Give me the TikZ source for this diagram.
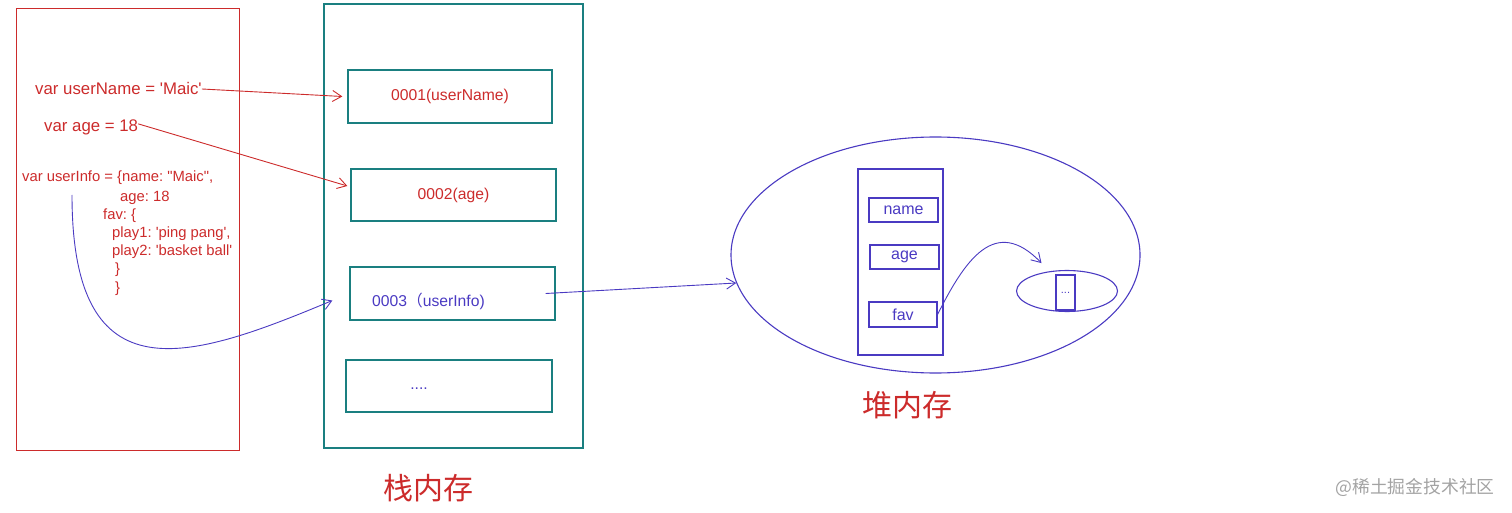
\documentclass[tikz,border=0pt]{standalone}
\usepackage{fontspec}
\setmainfont{Liberation Sans}[Ligatures=TeXOff]
\newfontfamily\cjk{Noto Sans CJK SC}
\usetikzlibrary{shapes.geometric,arrows.meta}
\definecolor{codered}{HTML}{CC2B2B}
\definecolor{stackteal}{HTML}{1A7F80}
\definecolor{heapviolet}{HTML}{4A3AC2}
\definecolor{markgray}{HTML}{A3A3A3}
\newcommand{\cn}[1]{{\cjk #1}}
\newcommand{\low}[1]{\raisebox{-2pt}{#1}}
\frenchspacing
\tikzset{
            codeline/.style={anchor=base west, inner sep=0pt, text=codered, font=\fontsize{14.8}{16}\selectfont},
            cell/.style={draw=stackteal, line width=1.3pt, inner sep=0pt, font=\fontsize{15.7}{18}\selectfont},
            heapbox/.style={draw=heapviolet, line width=1.1pt, inner sep=0pt, text=heapviolet, font=\fontsize{16}{18}\selectfont},
            title/.style={text=codered, font=\cjk\fontsize{30}{34}\selectfont}
        }

\begin{document}
\begin{tikzpicture}[
                    x=1pt, y=-1pt,
                    redarrow/.style={draw=codered, line width=0.9pt, -{Straight Barb[length=9pt,width=11pt]}},
                    violetarrow/.style={draw=heapviolet, line width=0.9pt, -{Straight Barb[length=9pt,width=11pt]}}
                    ]
                \useasboundingbox (0,0) rectangle (1512,513);
                % code side
                \node[draw=codered, line width=0.8pt, minimum width=223pt, minimum height=442pt] (code) at (127.5,229) {};
                \node[codeline, font=\fontsize{16.8}{18}\selectfont] (username) at (35,95) {var userName = 'Maic'};
                \node[codeline, font=\fontsize{16.8}{18}\selectfont] (age) at (44,132) {var age = 18};
                \node[codeline] (userinfo) at (22,182) {var userInfo = \{name: "Maic",};
                \node[codeline] (infoage) at (120,201) {age: 18};
                \node[codeline] (infofav) at (103,219) {fav: \{};
                \node[codeline] (playa) at (112,237) {play1: 'ping pang',};
                \node[codeline] (playb) at (112,255) {play2: 'basket ball'};
                \node[codeline] (closea) at (115,273) {\}};
                \node[codeline] (closeb) at (115,292) {\}};
                \coordinate (infostart) at (72,195);
                % stack
                \node[cell, minimum width=259pt, minimum height=444pt] (stack) at (453.5,226) {};
                \node[cell, minimum width=204pt, minimum height=53pt, text=codered] (stacka) at (450,96.5) {\low{0001(userName)}};
                \node[cell, minimum width=205pt, minimum height=52pt, text=codered] (stackb) at (453.5,195) {\low{0002(age)}};
                \node[cell, minimum width=205pt, minimum height=53pt] (stackc) at (452.5,293.5) {};
                \node[cell, minimum width=206pt, minimum height=52pt] (stackd) at (449,386) {};
                \node[anchor=west, inner sep=0pt, text=heapviolet, font=\fontsize{15.7}{18}\selectfont] (stackctext) at (372,301) {0003\cn{（}userInfo)};
                \node[inner sep=0pt, text=heapviolet, font=\fontsize{15.7}{18}\selectfont] (stackdtext) at (419,389) {....};
                \node[title] (stacktitle) at (428,488) {栈内存};
                % heap
                \node[heapbox, ellipse, minimum width=409pt, minimum height=236pt] (heap) at (935.5,255) {};
                \node[heapbox, minimum width=85pt, minimum height=186pt] (heapcol) at (900.5,262) {};
                \node[heapbox, minimum width=69pt, minimum height=24pt] (name) at (903.5,210) {\low{name}};
                \node[heapbox, minimum width=69pt, minimum height=24pt] (hage) at (904.5,257) {\low{age}};
                \node[heapbox, minimum width=68pt, minimum height=25pt] (fav) at (903,314.5) {\low{fav}};
                \node[heapbox, ellipse, minimum width=101pt, minimum height=41pt] (sub) at (1067,291) {};
                \node[heapbox, minimum width=19pt, minimum height=35pt, font=\fontsize{11}{12}\selectfont] (subcell) at (1065.5,292.5) {...};
                \node[title] (heaptitle) at (907,405) {堆内存};
                \node[text=markgray, inner sep=0pt, font=\cjk\fontsize{17.8}{20}\selectfont] (mark) at (1415,487) {@稀土掘金技术社区};
                % pointers
                \draw[redarrow] (username.east) -- ([xshift=-5pt]stacka.west);
                \draw[redarrow] ([yshift=4pt]age.east) -- ([xshift=-3pt,yshift=9pt]stackb.west);
                \draw[violetarrow] (infostart) .. controls (72,400) and (190,360) .. ([xshift=-17pt,yshift=-7pt]stackc.west);
                \draw[violetarrow] ([xshift=-10pt]stackc.east) -- (heap.188);
                \draw[violetarrow] (fav.east) .. controls (965,260) and (995,215) .. ([xshift=-3pt,yshift=9pt]sub.140);
            \end{tikzpicture}
\end{document}
